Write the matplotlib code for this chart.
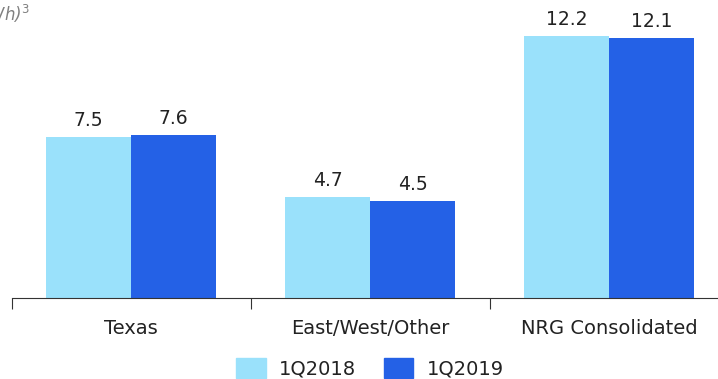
import matplotlib.pyplot as plt
from matplotlib.patches import Patch

categories = ['Texas', 'East/West/Other', 'NRG Consolidated']
q2018 = [7.5, 4.7, 12.2]
q2019 = [7.6, 4.5, 12.1]
series_labels = ['1Q2018', '1Q2019']

LIGHT = '#9ae1fb'
DARK = '#2461e6'

plt.rcParams['font.family'] = ['DejaVu Sans']

fig = plt.figure(figsize=(7.18, 3.79), dpi=100)
ax = fig.add_axes([11.5 / 718, 81 / 379, 717 / 718, 279 / 379])

x = list(range(len(categories)))
w = 0.356
b1 = ax.bar([i - w / 2 for i in x], q2018, width=w, color=LIGHT)
b2 = ax.bar([i + w / 2 for i in x], q2019, width=w, color=DARK)

for bars, vals in [(b1, q2018), (b2, q2019)]:
    for bar, v in zip(bars, vals):
        ax.annotate(f'{v:.1f}', (bar.get_x() + bar.get_width() / 2, v),
                    xytext=(0, 5), textcoords='offset points',
                    ha='center', va='bottom', fontsize=13.5, color='#222222')

ax.set_xlim(-0.5, 2.5)
ax.set_ylim(0, 13)
for s in ['top', 'right', 'left']:
    ax.spines[s].set_visible(False)
ax.spines['bottom'].set_color('#333333')
ax.set_yticks([])
ax.set_xticks([-0.5, 0.5, 1.5, 2.5])
ax.set_xticklabels([])
ax.tick_params(axis='x', which='major', length=8, color='#333333', direction='out')
ax.set_xticks(x, minor=True)
ax.set_xticklabels(categories, minor=True, fontsize=14, color='#222222')
ax.tick_params(axis='x', which='minor', length=0, pad=15)

handles = [Patch(color=LIGHT, label=series_labels[0]),
           Patch(color=DARK, label=series_labels[1])]
fig.legend(handles=handles, loc='center', bbox_to_anchor=(370 / 718, 1 - 368 / 379),
           ncol=2, frameon=False, fontsize=14, handlelength=1.5, handleheight=1.2,
           handletextpad=0.7, columnspacing=1.4, labelcolor='#222222')

fig.text(30 / 718, 1 - 14 / 379, 'Generation (TWh)$^3$', ha='right', va='center',
         fontsize=12, style='italic', color='#808080')

fig.savefig('out.png', dpi=100)
